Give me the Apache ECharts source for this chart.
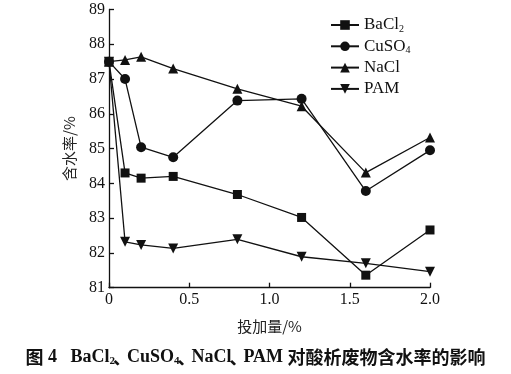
<!DOCTYPE html>
<html><head><meta charset="utf-8">
<script src="https://cdn.jsdelivr.net/npm/echarts@6/dist/echarts.min.js"></script>
<style>html,body{margin:0;padding:0;background:#fff}#c{width:511px;height:374px}</style>
</head><body><div id="c"></div>
<script>
const dosage = [0, 0.1, 0.2, 0.4, 0.8, 1.2, 1.6, 2.0];
const bacl2 = [87.5, 84.3, 84.15, 84.2, 83.68, 83.02, 81.36, 82.66];
const cuso4 = [87.5, 87.0, 85.04, 84.75, 86.38, 86.43, 83.78, 84.95];
const nacl  = [87.5, 87.55, 87.64, 87.3, 86.72, 86.22, 84.31, 85.32];
const pam   = [87.5, 82.32, 82.23, 82.13, 82.39, 81.89, 81.7, 81.46];
const seriesNames = ['BaCl2', 'CuSO4', 'NaCl', 'PAM'];
const legendRich = {'BaCl2': '{a|BaCl}{s|2}', 'CuSO4': '{a|CuSO}{s|4}', 'NaCl': '{a|NaCl}', 'PAM': '{a|PAM}'};
const serif = '"Liberation Serif", "Times New Roman", serif';
const cjk = '"Noto Sans CJK SC"';
const pair = arr => dosage.map((x, i) => [x, arr[i]]);
const downTri = 'path://M0,0 L10,0 L5,9 Z';
const symbols = ['rect', 'circle', 'triangle', downTri];
const sizes = [9, 10, 10, 10];
const datas = [bacl2, cuso4, nacl, pam];
const chart = echarts.init(document.getElementById('c'));
chart.setOption({
  animation: false,
  backgroundColor: '#fff',
  grid: {left: 109, right: 81, top: 9.5, bottom: 86.3, containLabel: false},
  title: {
    text: '{c|图}{l| 4   }{l|BaCl}{s|2}{d|、}{l|CuSO}{s|4}{d|、}{l|NaCl}{d|、}{l|PAM}{l| }{c|对酸析废物含水率的影响}',
    left: 'center', top: 347, padding: 0,
    textStyle: {
      fontFamily: cjk, fontWeight: 'bold', fontSize: 18, color: '#111', lineHeight: 20,
      rich: {
        c: {fontFamily: cjk, fontWeight: 'bold', fontSize: 18, color: '#111', lineHeight: 20},
        d: {fontFamily: cjk, fontWeight: 'bold', fontSize: 18, color: '#111', lineHeight: 20, width: 10, align: 'left', padding: [0, 0, 0, 2]},
        l: {fontFamily: serif, fontWeight: 'bold', fontSize: 18, color: '#111', lineHeight: 20},
        s: {fontFamily: serif, fontWeight: 'bold', fontSize: 11, color: '#111', lineHeight: 20, verticalAlign: 'bottom'}
      }
    }
  },
  legend: {
    data: seriesNames, orient: 'vertical', left: 330, top: 16, itemGap: 3.3, padding: 0,
    itemWidth: 28, itemHeight: 12,
    formatter: n => legendRich[n],
    textStyle: {
      fontFamily: serif, fontSize: 17, color: '#111', lineHeight: 18,
      rich: {
        a: {fontFamily: serif, fontSize: 17, color: '#111', lineHeight: 18},
        s: {fontFamily: serif, fontSize: 10, color: '#111', lineHeight: 18, verticalAlign: 'bottom'}
      }
    }
  },
  xAxis: {
    type: 'value', min: 0, max: 2, interval: 0.5,
    name: '投加量/%', nameLocation: 'middle', nameGap: 31,
    nameTextStyle: {fontFamily: cjk, fontSize: 15, color: '#222'},
    axisLine: {lineStyle: {color: '#111', width: 1.3}},
    axisTick: {inside: true, length: 5, lineStyle: {color: '#111', width: 1.3}},
    axisLabel: {fontFamily: serif, fontSize: 16, color: '#111', margin: 4,
      formatter: v => v === 0 ? '0' : v.toFixed(1)},
    splitLine: {show: false}
  },
  yAxis: {
    type: 'value', min: 81, max: 89, interval: 1,
    name: '含水率/%', nameLocation: 'middle', nameGap: 32, nameRotate: 90,
    nameTextStyle: {fontFamily: cjk, fontSize: 15, color: '#222'},
    axisLine: {show: true, lineStyle: {color: '#111', width: 1.3}},
    axisTick: {show: true, inside: true, length: 5, lineStyle: {color: '#111', width: 1.3}},
    axisLabel: {fontFamily: serif, fontSize: 16, color: '#111', margin: 4},
    splitLine: {show: false}
  },
  series: seriesNames.map((n, i) => ({
    name: n, type: 'line', data: pair(datas[i]),
    symbol: symbols[i], symbolSize: sizes[i],
    itemStyle: {color: '#111'},
    lineStyle: {color: '#111', width: 1.3},
    z: 4 - i
  }))
});
</script></body></html>
